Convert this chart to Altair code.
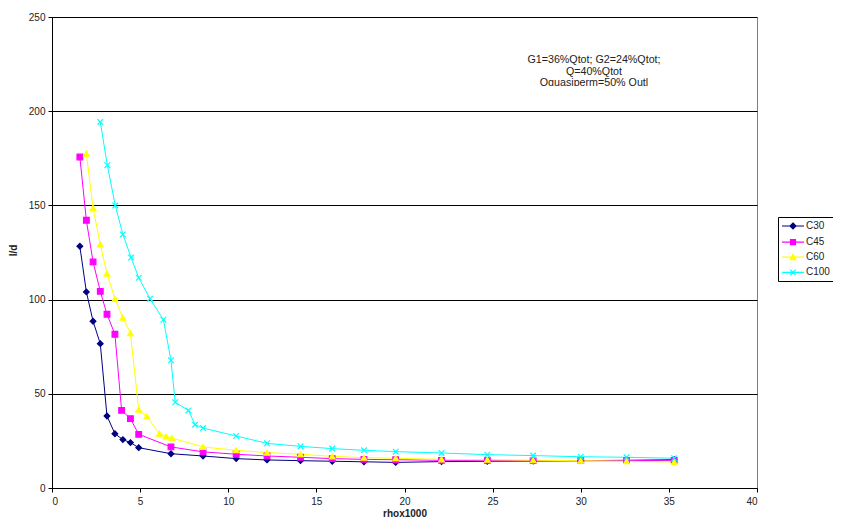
import altair as alt
import pandas as pd

series_names = ["C30", "C45", "C60", "C100"]
colors = ["#000080", "#FF00FF", "#FFFF00", "#00FFFF"]
shapes = ["diamond", "square", "triangle-up", "M-1,-1L1,1M-1,1L1,-1"]

c30_x = [1.58, 1.95, 2.33, 2.74, 3.12, 3.57, 4.02, 4.45, 4.92, 6.75, 8.57, 10.45, 12.2, 14.1, 15.9, 17.7, 19.5, 22.1, 24.7, 27.3, 30.0, 32.6, 35.3]
c30_y = [128.3, 104.1, 88.5, 76.6, 38.2, 28.8, 25.7, 24.1, 21.4, 18.2, 17.0, 15.6, 14.9, 14.5, 14.2, 13.9, 13.6, 14.0, 14.2, 14.3, 14.5, 14.7, 15.0]

c45_x = [1.58, 1.95, 2.33, 2.74, 3.12, 3.57, 3.95, 4.45, 4.92, 6.75, 8.57, 10.45, 12.2, 14.1, 15.9, 17.7, 19.5, 22.1, 24.7, 27.3, 30.0, 32.6, 35.3]
c45_y = [175.7, 142.1, 120.0, 104.4, 92.2, 81.6, 41.2, 36.8, 28.5, 21.8, 19.2, 17.9, 17.0, 16.3, 15.6, 15.2, 15.0, 14.7, 14.7, 14.5, 14.5, 14.5, 14.7]

c60_x = [1.95, 2.33, 2.74, 3.12, 3.57, 4.02, 4.45, 4.92, 5.38, 6.09, 6.47, 6.80, 8.57, 10.45, 12.2, 14.1, 15.9, 17.7, 19.5, 22.1, 24.7, 27.3, 30.0, 32.6, 35.3]
c60_y = [177.5, 148.6, 129.3, 113.8, 100.5, 90.4, 82.1, 41.6, 38.0, 28.8, 27.4, 26.5, 21.8, 20.0, 18.8, 17.9, 16.8, 16.1, 15.8, 15.2, 15.0, 14.7, 14.5, 14.2, 13.8]

c100_x = [2.74, 3.14, 3.59, 4.02, 4.49, 4.92, 5.56, 6.32, 6.75, 6.99, 7.74, 8.12, 8.57, 10.45, 12.2, 14.1, 15.9, 17.7, 19.5, 22.1, 24.7, 27.3, 30.0, 32.6, 35.3]
c100_y = [194.3, 171.3, 150.0, 134.6, 122.3, 111.6, 100.5, 89.3, 67.8, 45.5, 41.2, 33.6, 31.8, 27.6, 23.7, 22.1, 20.9, 20.0, 19.3, 18.6, 17.7, 17.2, 16.6, 16.3, 15.8]

note_lines = ["G1=36%Qtot; G2=24%Qtot;", "Q=40%Qtot", "Qquasiperm=50% Qutl"]
note_x = [30.75, 30.75, 30.75]
note_y = [227.2, 220.8, 214.8]

rows = []
for name, xs, ys in zip(series_names, [c30_x, c45_x, c60_x, c100_x], [c30_y, c45_y, c60_y, c100_y]):
    for i, (xv, yv) in enumerate(zip(xs, ys)):
        rows.append({"series": name, "x": xv, "y": yv, "i": i})
df = pd.DataFrame(rows)
notes = pd.DataFrame({"t": note_lines, "x": note_x, "y": note_y})
clip = pd.DataFrame({"x": [26.0], "x2": [36.0], "y": [205.0], "y2": [213.4]})

xscale = alt.Scale(domain=[0, 40], nice=False, zero=True)
yscale = alt.Scale(domain=[0, 250], nice=False)
sscale = alt.Scale(domain=series_names, range=colors)

xaxis = alt.Axis(values=list(range(0, 41, 5)), title="rhox1000", grid=False, tickSize=4,
                 labelPadding=4, titlePadding=2)
yaxis = alt.Axis(values=list(range(0, 251, 50)), title="l/d", grid=True, gridColor="#000000",
                 gridWidth=1, tickSize=4, labelPadding=3, titleX=-39, titleY=233,
                 titleBaseline="middle")

# legend symbols: a short line with the series marker on it
leg_paths = {
    "C30": "M-2.2,0L2.2,0M0,-0.6L0.6,0L0,0.6L-0.6,0Z",
    "C45": "M-2.2,0L2.2,0M-0.5,-0.5L0.5,-0.5L0.5,0.5L-0.5,0.5Z",
    "C60": "M-2.2,0L2.2,0M0,-0.6L0.6,0.5L-0.6,0.5Z",
    "C100": "M-2.2,0L2.2,0M-0.55,-0.55L0.55,0.55M-0.55,0.55L0.55,-0.55",
}
shape_expr = " : ".join(f"datum.value === '{k}' ? '{v}'" for k, v in leg_paths.items()) + " : 'circle'"

leg = alt.Legend(
    title=None, orient="none", legendX=726, legendY=200,
    symbolOffset=6, labelOffset=7,
    symbolType={"expr": shape_expr},
)

base = alt.Chart(df)
lines = base.mark_line(strokeWidth=1).encode(
    x=alt.X("x:Q", scale=xscale, axis=xaxis),
    y=alt.Y("y:Q", scale=yscale, axis=yaxis),
    stroke=alt.Stroke("series:N", scale=sscale, legend=leg),
    order="i:Q",
    detail="series:N",
)
point_layers = []
for name, shp in zip(series_names, shapes):
    point_layers.append(
        base.transform_filter(alt.datum.series == name)
        .mark_point(filled=True, size=32, strokeWidth=1.2, opacity=1, shape=shp)
        .encode(
            x="x:Q",
            y="y:Q",
            fill=alt.Fill("series:N", scale=sscale, legend=leg),
            stroke=alt.Stroke("series:N", scale=sscale, legend=leg),
        )
    )
text = alt.Chart(notes).mark_text(fontSize=10.7, color="#222222", align="center", baseline="middle").encode(
    x="x:Q", y="y:Q", text="t:N"
)
clipper = alt.Chart(clip).mark_rect(color="white").encode(x="x:Q", x2="x2:Q", y="y:Q", y2="y2:Q")

chart = alt.layer(lines, *point_layers, text, clipper).properties(
    width=705, height=471,
    autosize=alt.AutoSizeParams(type="none"),
    padding={"left": 44, "top": 9, "right": 76, "bottom": 31},
).configure(font="Liberation Sans").configure_view(
    stroke="#808080", strokeWidth=1
).configure_axis(
    domainColor="#000000", tickColor="#000000", labelColor="#222222", labelFontSize=10,
    titleFontSize=10, titleFontWeight="bold", titleColor="#222222",
).configure_legend(
    strokeColor="#000000", fillColor="white", padding=3, labelFontSize=10, labelColor="#222222",
    symbolSize=100, symbolStrokeWidth=1.2, rowPadding=4.1,
)

chart.save("out.html", embed_options={"renderer": "svg", "actions": False})
